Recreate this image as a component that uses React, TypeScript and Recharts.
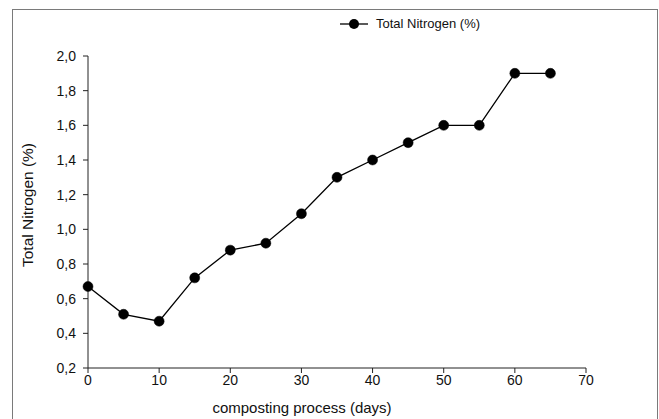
import React from "react";
import { LineChart, Line, XAxis, YAxis, Label } from "recharts";

const days = [0, 5, 10, 15, 20, 25, 30, 35, 40, 45, 50, 55, 60, 65];
const totalNitrogen = [0.67, 0.51, 0.47, 0.72, 0.88, 0.92, 1.09, 1.3, 1.4, 1.5, 1.6, 1.6, 1.9, 1.9];
const xTicks = [0, 10, 20, 30, 40, 50, 60, 70];
const yTicks = [0.2, 0.4, 0.6, 0.8, 1.0, 1.2, 1.4, 1.6, 1.8, 2.0];
const seriesName = "Total Nitrogen (%)";
const xTitle = "composting process (days)";
const yTitle = "Total Nitrogen (%)";

const data = days.map((d, i) => ({ day: d, n: totalNitrogen[i] }));

const FONT = "'Liberation Sans', Arial, sans-serif";

const LegendBox = () => (
  <div
    style={{
      position: "absolute",
      left: 339,
      top: 16,
      display: "flex",
      alignItems: "center",
      fontFamily: FONT,
      fontSize: 13,
      color: "#111",
      whiteSpace: "nowrap",
    }}
  >
    <svg width={30} height={14} style={{ marginRight: 7 }}>
      <line x1={1} y1={7} x2={29} y2={7} stroke="#000" strokeWidth={1.3} />
      <circle cx={15} cy={7} r={5} fill="#000" />
    </svg>
    <span>{seriesName}</span>
  </div>
);

export default function App() {
  return (
    <div style={{ position: "absolute", left: 0, top: 0, width: 659, height: 419, background: "#fff", overflow: "hidden" }}>
      <div
        style={{
          position: "absolute",
          left: 12,
          top: 9,
          width: 644,
          height: 430,
          borderLeft: "1.5px solid #7a7a7a",
          borderTop: "1.5px solid #7a7a7a",
          borderRight: "1.5px solid #7a7a7a",
        }}
      />
      <div style={{ position: "absolute", left: 0, top: 0 }}>
        <LineChart width={659} height={419} data={data} margin={{ top: 56, right: 73, left: 12, bottom: 21 }}>
          <XAxis
            dataKey="day"
            type="number"
            domain={[0, 70]}
            ticks={xTicks}
            interval={0}
            height={30}
            tickSize={5}
            tickMargin={2}
            stroke="#222"
            tick={{ fill: "#111", fontSize: 14, fontFamily: FONT }}
          >
            <Label
              content={() => (
                <text x={302} y={413} textAnchor="middle" fontSize={15} fontFamily={FONT} fill="#111">
                  {xTitle}
                </text>
              )}
            />
          </XAxis>
          <YAxis
            type="number"
            domain={[0.2, 2.0]}
            ticks={yTicks}
            interval={0}
            width={76}
            tickSize={5}
            tickMargin={7}
            stroke="#222"
            tickFormatter={(v: number) => v.toFixed(1).replace(".", ",")}
            tick={{ fill: "#111", fontSize: 14, fontFamily: FONT }}
          >
            <Label
              content={() => (
                <text
                  x={0}
                  y={0}
                  transform="translate(33, 205) rotate(-90)"
                  textAnchor="middle"
                  fontSize={15.5}
                  fontFamily={FONT}
                  fill="#111"
                >
                  {yTitle}
                </text>
              )}
            />
          </YAxis>
          <Line
            type="linear"
            dataKey="n"
            name={seriesName}
            stroke="#000"
            strokeWidth={1.3}
            dot={{ r: 5, fill: "#000", stroke: "#000", strokeWidth: 0.5 }}
            activeDot={false}
            isAnimationActive={false}
          />
        </LineChart>
      </div>
      <LegendBox />
    </div>
  );
}
